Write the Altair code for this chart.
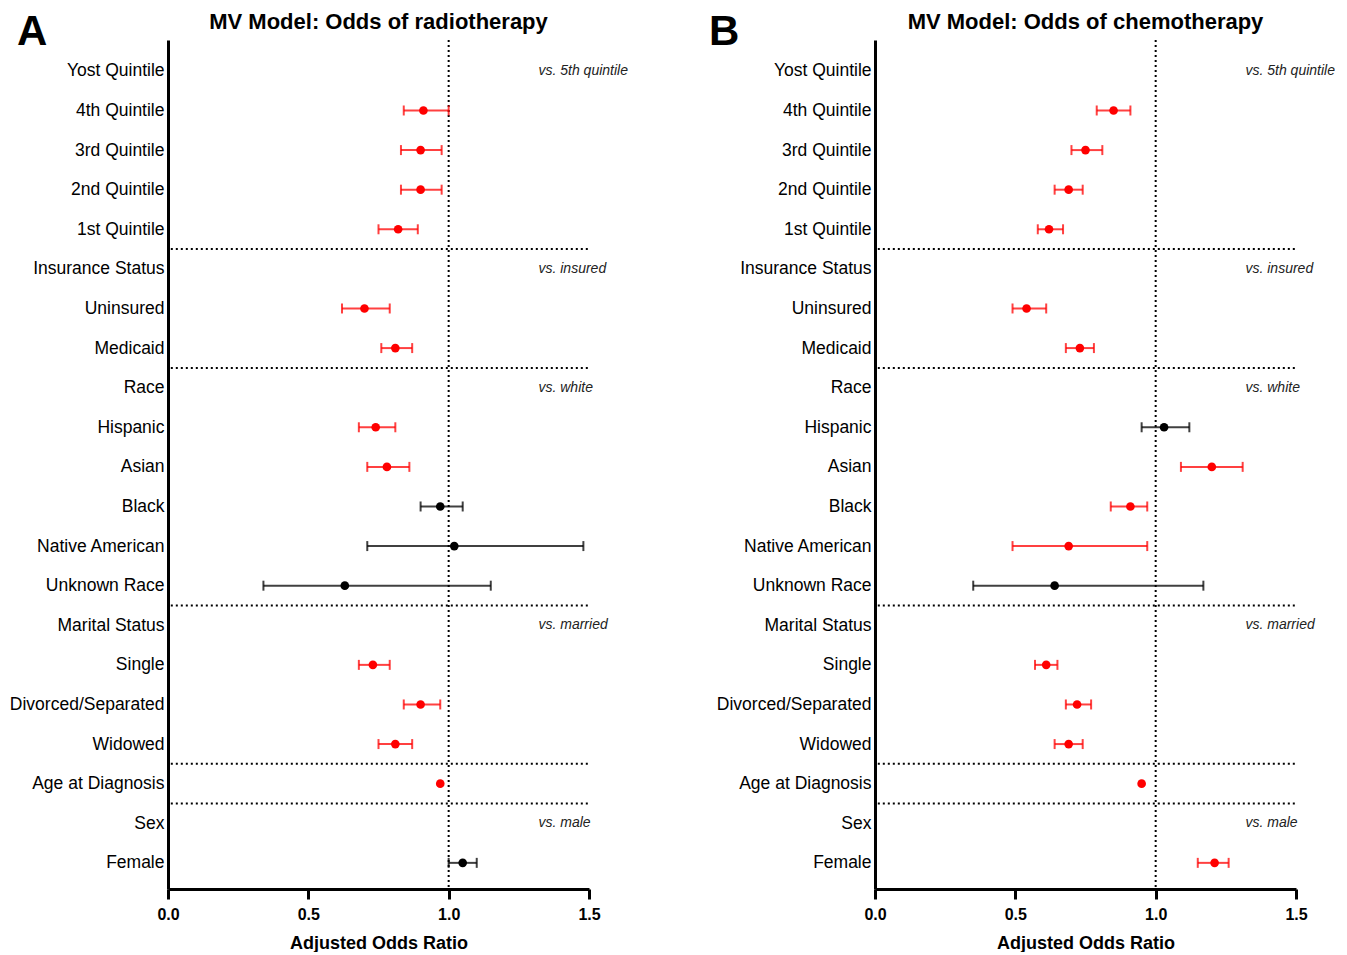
import json
import altair as alt
import pandas as pd

rows = ["Yost Quintile", "4th Quintile", "3rd Quintile", "2nd Quintile", "1st Quintile",
        "Insurance Status", "Uninsured", "Medicaid",
        "Race", "Hispanic", "Asian", "Black", "Native American", "Unknown Race",
        "Marital Status", "Single", "Divorced/Separated", "Widowed",
        "Age at Diagnosis", "Sex", "Female"]

# Panel A: radiotherapy
a_or = [None, 0.91, 0.90, 0.90, 0.82, None, 0.70, 0.81, None, 0.74, 0.78, 0.97, 1.02, 0.63,
        None, 0.73, 0.90, 0.81, 0.97, None, 1.05]
a_lo = [None, 0.84, 0.83, 0.83, 0.75, None, 0.62, 0.76, None, 0.68, 0.71, 0.90, 0.71, 0.34,
        None, 0.68, 0.84, 0.75, None, None, 1.00]
a_hi = [None, 1.00, 0.975, 0.975, 0.89, None, 0.79, 0.87, None, 0.81, 0.86, 1.05, 1.48, 1.15,
        None, 0.79, 0.97, 0.87, None, None, 1.10]
a_sig = [None, "sig", "sig", "sig", "sig", None, "sig", "sig", None, "sig", "sig", "ns", "ns", "ns",
         None, "sig", "sig", "sig", "sig", None, "ns"]

# Panel B: chemotherapy
b_or = [None, 0.85, 0.75, 0.69, 0.62, None, 0.54, 0.73, None, 1.03, 1.20, 0.91, 0.69, 0.64,
        None, 0.61, 0.72, 0.69, 0.95, None, 1.21]
b_lo = [None, 0.79, 0.70, 0.64, 0.58, None, 0.49, 0.68, None, 0.95, 1.09, 0.84, 0.49, 0.35,
        None, 0.57, 0.68, 0.64, None, None, 1.15]
b_hi = [None, 0.91, 0.81, 0.74, 0.67, None, 0.61, 0.78, None, 1.12, 1.31, 0.97, 0.97, 1.17,
        None, 0.65, 0.77, 0.74, None, None, 1.26]
b_sig = [None, "sig", "sig", "sig", "sig", None, "sig", "sig", None, "ns", "sig", "sig", "sig", "ns",
         None, "sig", "sig", "sig", "sig", None, "sig"]

ref_rows = [0, 5, 8, 14, 19]
ref_text = ["vs. 5th quintile", "vs. insured", "vs. white", "vs. married", "vs. male"]
separators = [4.5, 7.5, 13.5, 17.5, 18.5]

FONT = "Liberation Sans"
label_expr = json.dumps(rows) + "[datum.value]"
W, H = 421, 849


def panel(letter, title, orv, lov, hiv, sig, red, letter_x):
    df = pd.DataFrame({"row": list(range(len(rows))), "label": rows,
                       "or": orv, "lo": lov, "hi": hiv, "sig": sig})
    pts_df = df.dropna(subset=["or"])
    ci_df = df.dropna(subset=["lo"])
    color = alt.Color("sig:N", scale=alt.Scale(domain=["sig", "ns"], range=[red, "#000000"]),
                      legend=None)
    xs = alt.Scale(domain=[0, 1.5], nice=False, zero=False)
    ys = alt.Scale(domain=[-0.78, 20.66], reverse=True, nice=False, zero=False)
    xaxis = alt.Axis(values=[0, 0.5, 1.0, 1.5], format=".1f", tickSize=10, tickWidth=3,
                     tickColor="black", domainWidth=3, domainColor="black", grid=False,
                     labelFontSize=16, labelFontWeight="bold", labelColor="black", labelFont=FONT,
                     labelFlush=False, labelPadding=7,
                     title="Adjusted Odds Ratio", titleFontSize=18, titleFontWeight="bold",
                     titleFont=FONT, titleColor="black", titlePadding=12)
    yaxis = alt.Axis(values=list(range(len(rows))), labelExpr=label_expr, ticks=False, grid=False,
                     domainWidth=3, domainColor="black", labelFontSize=17.5, labelColor="black",
                     labelFont=FONT, labelPadding=4, labelOverlap=False, labelLimit=300, title=None)

    bars = alt.Chart(ci_df).mark_rule(strokeWidth=2, opacity=0.75).encode(
        x=alt.X("lo:Q", scale=xs, axis=xaxis), x2="hi:Q",
        y=alt.Y("row:Q", scale=ys, axis=yaxis), color=color)
    cap_lo = alt.Chart(ci_df).mark_tick(orient="vertical", size=10, thickness=2, opacity=0.75).encode(
        x=alt.X("lo:Q", scale=xs), y=alt.Y("row:Q", scale=ys), color=color)
    cap_hi = alt.Chart(ci_df).mark_tick(orient="vertical", size=10, thickness=2, opacity=0.75).encode(
        x=alt.X("hi:Q", scale=xs), y=alt.Y("row:Q", scale=ys), color=color)
    pts = alt.Chart(pts_df).mark_circle(size=75, opacity=1).encode(
        x=alt.X("or:Q", scale=xs, axis=xaxis), y=alt.Y("row:Q", scale=ys, axis=yaxis), color=color)

    vline = alt.Chart(pd.DataFrame({"x": [1.0]})).mark_rule(
        strokeDash=[2, 3], strokeWidth=2, color="black").encode(x=alt.X("x:Q", scale=xs))
    seps = alt.Chart(pd.DataFrame({"y": separators})).mark_rule(
        strokeDash=[2, 3], strokeWidth=2, color="black").encode(
        y=alt.Y("y:Q", scale=ys), x=alt.datum(0.01), x2=alt.datum(1.5))
    refs = alt.Chart(pd.DataFrame({"row": ref_rows, "t": ref_text})).mark_text(
        align="left", baseline="middle", fontSize=14, fontStyle="italic", font=FONT,
        color="#222222").encode(x=alt.datum(1.32), y=alt.Y("row:Q", scale=ys), text="t:N")
    lett = alt.Chart(pd.DataFrame({"t": [letter]})).mark_text(
        align="left", baseline="middle", fontSize=42, fontWeight="bold", font=FONT,
        color="black").encode(x=alt.value(letter_x), y=alt.value(-8), text="t:N")
    ttl = alt.Chart(pd.DataFrame({"t": [title]})).mark_text(
        align="center", baseline="middle", fontSize=22, fontWeight="bold", font=FONT,
        color="black").encode(x=alt.value(W / 2), y=alt.value(-18), text="t:N")

    return alt.layer(vline, seps, bars, cap_lo, cap_hi, pts, refs, lett, ttl).properties(
        width=W, height=H)


pa = panel("A", "MV Model: Odds of radiotherapy", a_or, a_lo, a_hi, a_sig, "#ff0000", -151)
pb = panel("B", "MV Model: Odds of chemotherapy", b_or, b_lo, b_hi, b_sig, "#c41010", -166)

chart = alt.hconcat(pa, pb, spacing=81).properties(
    padding={"left": 1, "top": 3, "right": 0, "bottom": 0}
).configure(font=FONT).configure_view(strokeWidth=0, stroke="transparent")

chart.save("out.html", embed_options={"renderer": "svg", "actions": False})
